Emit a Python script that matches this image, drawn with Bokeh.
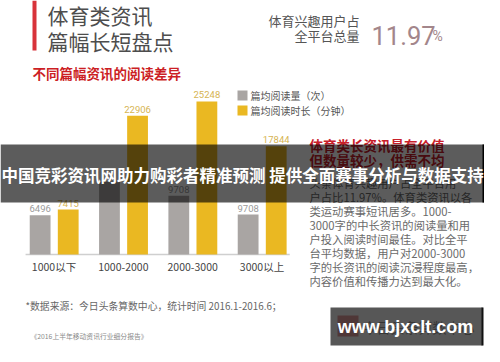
from bokeh.plotting import figure
from bokeh.models import Range1d, ColumnDataSource
from bokeh.embed import file_html
from bokeh.resources import INLINE
from bokeh.core.properties import value

# ---------------- data ----------------
categories = ["1000以下", "1000-2000", "2000-3000", "3000以上"]
read_counts = [6496, 12000, 9708, 6600]          # 篇均阅读量（次）, bar heights
read_labels = ["6496", "", "9708", "9708"]       # printed labels in the source
read_minutes = [7415, 22906, 25248, 17844]       # 篇均阅读时长（分钟）
legend_labels = ["篇均阅读量（次）", "篇均阅读时长（分钟）"]
paragraph = [
    "头条体育兴趣用户占全平台用",
    "户占比11.97%。体育类资讯以各",
    "类运动赛事短讯居多。1000-",
    "3000字的中长资讯的阅读量和用",
    "户投入阅读时间最佳。对比全平",
    "台平均数据，用户对2000-3000",
    "字的长资讯的阅读沉浸程度最高，",
    "内容价值和传播力达到最大化。",
]

GRAY = "#a9a5a3"
GOLD = "#eab822"
CJK = "Noto Sans CJK SC"

# page-pixel coordinate system for the decoration (screen x 8..492, y 8..354)
p = figure(width=484, height=346, x_range=Range1d(8, 492), y_range=Range1d(354, 8),
           min_border=0, toolbar_location=None, output_backend="svg",
           x_axis_location=None, y_axis_location=None,
           background_fill_color="#ffffff", border_fill_color="#ffffff",
           outline_line_color=None)
p.grid.visible = False

# data ranges for the bar chart (baseline at page y 262, categories centred 61.5 .. 269.5)
PX_PER_CAT = (269.5 - 61.5) / 3
UNITS_PER_PX = 165.0
p.extra_x_ranges = {"cat": Range1d((8 - 61.5) / PX_PER_CAT, (492 - 61.5) / PX_PER_CAT)}
p.extra_y_ranges = {"val": Range1d(-(354 - 262) * UNITS_PER_PX, (262 - 8) * UNITS_PER_PX)}


def txt(x, y, s, size, color, font=CJK, bold=False, align="left", baseline="middle", alpha=1.0):
    p.text(x=[x], y=[y], text=[s], text_font=value(font), text_font_size=f"{size}px",
           text_color=color, text_font_style="bold" if bold else "normal",
           text_align=align, text_baseline=baseline, text_alpha=alpha)


# ---------------- header ----------------
p.quad(left=40, right=44, top=8, bottom=58, fill_color="#d8333a", line_color=None)
txt(55, 22, "体育类资讯", 21, "#4d4d4d")
txt(55, 48, "篇幅长短盘点", 21, "#4d4d4d")
txt(40, 80, "不同篇幅资讯的阅读差异", 13.5, "#cc1f25", bold=True)

txt(367, 28, "体育兴趣用户占", 13, "#555555", align="right")
txt(367, 43, "全平台总量", 13, "#555555", align="right")
txt(379, 43, "11.97", 25.5, "#a3868b", font="Roboto", baseline="alphabetic")
txt(440, 43, "%", 14, "#a3868b", font="Roboto", baseline="alphabetic")

# ---------------- bars ----------------
idx = list(range(len(categories)))
src = ColumnDataSource(dict(
    xg=[i - 0.2 for i in idx], xo=[i + 0.205 for i in idx], xc=idx,
    reads=read_counts, mins=read_minutes, rlab=read_labels,
    mlab=[str(v) for v in read_minutes], cat=categories, zero=[0] * len(idx)))

p.segment(x0=-0.41, x1=3.4, y0=0, y1=0, line_color="#cfcfcf", line_width=1.5,
          x_range_name="cat", y_range_name="val")
p.vbar(x="xg", top="reads", bottom=0, width=0.3, fill_color=GRAY, line_color=None,
       source=src, x_range_name="cat", y_range_name="val")
p.vbar(x="xo", top="mins", bottom=0, width=0.3, fill_color=GOLD, line_color=None,
       source=src, x_range_name="cat", y_range_name="val")
p.text(x="xg", y="reads", text="rlab", source=src, x_range_name="cat", y_range_name="val",
       text_font=value("Roboto"), text_font_size="9.5px", text_color="#9b9b9b",
       text_align="center", text_baseline="bottom", y_offset=-3)
p.text(x="xo", y="mins", text="mlab", source=src, x_range_name="cat", y_range_name="val",
       text_font=value("Roboto"), text_font_size="9.5px", text_color="#d6b452",
       text_align="center", text_baseline="bottom", y_offset=-3)
p.text(x="xc", y="zero", text="cat", source=src, x_range_name="cat", y_range_name="val",
       text_font=value(CJK), text_font_size="10.5px", text_color="#444444",
       text_align="center", text_baseline="middle", y_offset=12)

# legend
p.quad(left=245, right=255, top=98, bottom=108, fill_color=GRAY, line_color=None)
p.quad(left=245, right=255, top=113, bottom=123, fill_color=GOLD, line_color=None)
txt(258, 103, legend_labels[0], 10, "#555555")
txt(258, 118, legend_labels[1], 10, "#555555")

# ---------------- right text ----------------
txt(317, 152, "体育类长资讯最有价值", 13.5, "#c8202a", bold=True)
txt(317, 167, "但数量较少，供需不均", 13.5, "#c8202a", bold=True)
for k, line in enumerate(paragraph):
    txt(317, 190 + 14 * k, line, 11.3, "#6a6a6a")

# ---------------- footer ----------------
txt(33, 313, "*数据来源：今日头条算数中心，统计时间 2016.1-2016.6；", 9.8, "#666666")
txt(38, 343, "《2016上半年移动资讯行业细分报告》", 6.8, "#8a8a8a")

# logo under watermark
p.quad(left=345, right=366, top=323, bottom=344, fill_color="#c8282d", line_color=None)
txt(370, 334, "今日头条算数中心", 14, "#222222")
p.quad(left=338, right=490, top=315, bottom=353, fill_color="#3a3a3a", fill_alpha=0.85, line_color=None)
p.quad(left=489, right=491, top=315, bottom=353, fill_color="#111111", line_color=None)
txt(413, 334, "www.bjxclt.com", 18, "#ffffff", font="Liberation Sans", bold=True, align="center")

# ---------------- banner overlay ----------------
p.quad(left=8, right=492, top=152, bottom=210, fill_color="#000000", fill_alpha=0.64, line_color=None)
p.quad(left=490, right=492, top=152, bottom=210, fill_color="#000000", line_color=None)
txt(9, 182, "中国竞彩资讯网助力购彩者精准预测 提供全面赛事分析与数据支持", 16.5, "#ffffff", bold=True)

open("out.html", "w").write(file_html(p, INLINE))
